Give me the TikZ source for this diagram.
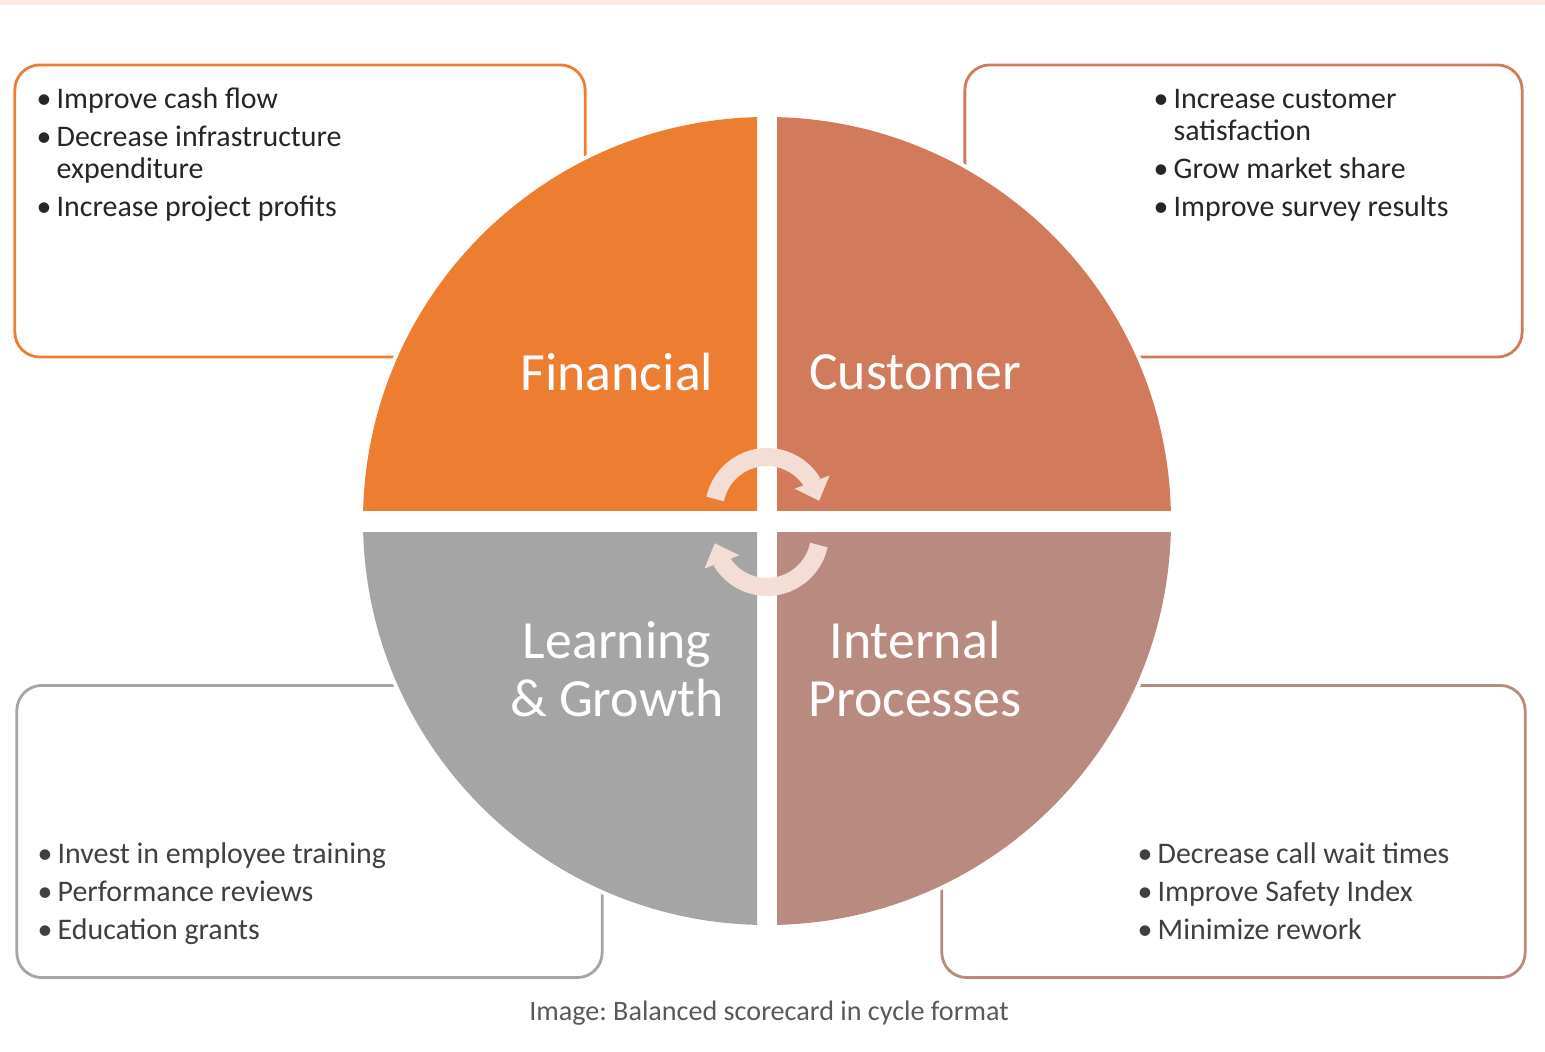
\documentclass[tikz,border=0pt]{standalone}
\usepackage{fontspec}
\setmainfont{Carlito}
\usetikzlibrary{arrows.meta,bending,positioning}
\frenchspacing

\definecolor{fincol}{HTML}{ED7D31}
\definecolor{cuscol}{HTML}{D17B5C}
\definecolor{lrncol}{HTML}{A5A5A5}
\definecolor{iprcol}{HTML}{B98A80}
\definecolor{cyccol}{HTML}{F4DDD5}
\definecolor{bandcol}{HTML}{FBEBE0}
\definecolor{capcol}{HTML}{595959}

% bullet and hanging indent for the item lists
\newcommand{\itm}{\makebox[0.2cm][l]{\textbullet}}
\newcommand{\cnt}{\hspace*{0.2cm}}

\begin{document}
\begin{tikzpicture}[x=0.01cm,y=-0.01cm,
    panel/.style={draw,rounded corners=0.25cm,line width=0.8pt,fill=white,inner sep=0pt,
      minimum height=2.92cm},
    items/.style={anchor=base west,align=left,inner sep=0pt,
      font=\fontsize{8.5}{9.1}\selectfont},
    quad label/.style={text=white,align=center,inner sep=0pt,
      font=\fontsize{15.3}{16.5}\selectfont},
    cycle arrow/.style={cyccol,line width=0.18cm,-{Triangle[width=0.36cm,length=0.2cm]}}]
  \useasboundingbox (0,0) rectangle (1545,1051);
  \fill[white] (0,0) rectangle (1545,1051);
  \fill[bandcol] (0,0) rectangle (1545,5);

  % the four text panels behind the circle
  \node[panel,draw=fincol,minimum width=5.70cm] (finbox) at (300,211) {};
  \node[panel,draw=cuscol,minimum width=5.57cm] (cusbox) at (1243.5,211) {};
  \node[panel,draw=lrncol,minimum width=5.85cm] (lrnbox) at (309.5,831.5) {};
  \node[panel,draw=iprcol,minimum width=5.83cm] (iprbox) at (1233.5,831.5) {};

  % circle cut into quarters
  \coordinate (cen) at (767,521);
  \fill[white] (cen) circle[radius=408];
  \begin{scope} \clip (0,0) rectangle (757,510); \fill[fincol] (cen) circle[radius=404]; \end{scope}
  \begin{scope} \clip (777,0) rectangle (1545,510); \fill[cuscol] (cen) circle[radius=404]; \end{scope}
  \begin{scope} \clip (0,532) rectangle (757,1051); \fill[lrncol] (cen) circle[radius=404]; \end{scope}
  \begin{scope} \clip (777,532) rectangle (1545,1051); \fill[iprcol] (cen) circle[radius=404]; \end{scope}

  \node[quad label] (fin) at (617,372) {Financial};
  \node[quad label] (cus) at (915,372) {Customer};
  \node[quad label] (lrn) at (617,669) {Learning\\\& Growth};
  \node[quad label] (ipr) at (915,669) {Internal\\Processes};

  % cycle arrows in the middle
  \coordinate (cyctop) at (767,510);
  \coordinate (cycbot) at (767,534);
  \draw[cycle arrow] ([shift={(192:53)}]cyctop) arc[start angle=192,end angle=350,radius=53];
  \draw[cycle arrow] ([shift={(12:53)}]cycbot) arc[start angle=12,end angle=170,radius=53];

  % item lists, placed by the baseline of their last line
  \node[items,text=black!85] (fintxt) at (36,216)
    {\itm Improve cash flow\\[1.7pt] \itm Decrease infrastructure\\ \cnt expenditure\\[1.7pt]
     \itm Increase project profits};
  \node[items,text=black!85] (custxt) at (1153,216)
    {\itm Increase customer\\ \cnt satisfaction\\[1.7pt] \itm Grow market share\\[1.7pt]
     \itm Improve survey results};
  \node[items,text=black!75] (lrntxt) at (37,939)
    {\itm Invest in employee training\\[1.7pt] \itm Performance reviews\\[1.7pt]
     \itm Education grants};
  \node[items,text=black!75] (iprtxt) at (1137,939)
    {\itm Decrease call wait times\\[1.7pt] \itm Improve Safety Index\\[1.7pt]
     \itm Minimize rework};

  \node[text=capcol,font=\fontsize{8}{9.6}\selectfont] (cap) at (769,1013)
    {Image: Balanced scorecard in cycle format};
\end{tikzpicture}
\end{document}
